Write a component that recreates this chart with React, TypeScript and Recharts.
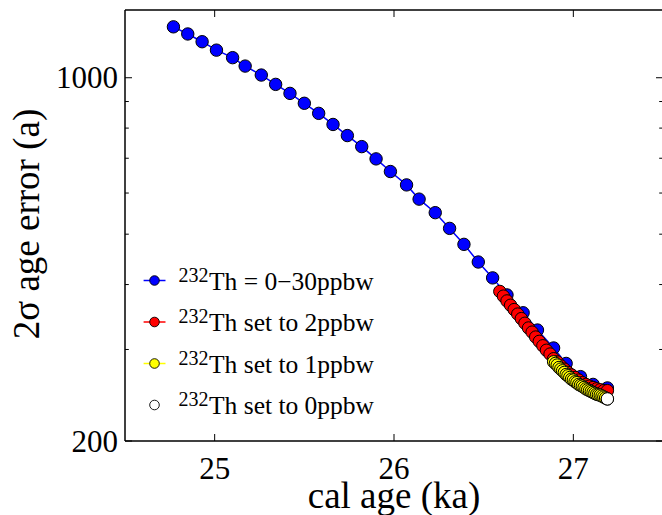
import React from 'react';
import { ComposedChart, Scatter, XAxis, YAxis, Legend } from 'recharts';

// ---- data ----
const blueX = [24.77, 24.85, 24.93, 25.01, 25.10, 25.17, 25.26, 25.34, 25.42, 25.50, 25.58, 25.66, 25.74, 25.82, 25.90, 25.98, 26.07, 26.14, 26.23, 26.31, 26.39, 26.47, 26.55, 26.63, 26.72, 26.80, 26.89, 26.96, 27.04, 27.11, 27.19];
const blueY = [1253, 1214, 1173, 1130, 1093, 1053, 1012, 971, 933, 893, 854, 813, 774, 737, 698, 660, 622, 584, 550, 513, 478, 442, 412, 382, 353, 327, 302, 282, 266, 257, 253];

const redX = [26.59, 26.61, 26.63, 26.65, 26.67, 26.69, 26.71, 26.73, 26.75, 26.77, 26.79, 26.81, 26.83, 26.85, 26.87, 26.89, 26.91, 26.93, 26.95, 26.97, 26.99, 27.01, 27.03, 27.05, 27.07, 27.09, 27.11, 27.13, 27.15, 27.17, 27.19];
const redY = [388, 380, 372, 365, 358, 351, 344, 337, 330, 324, 317, 311, 305, 299, 294, 288, 284, 279, 275, 271, 268, 265, 262, 259, 257, 255, 253.5, 252, 251, 250, 250];

const yellowX = [26.89, 26.90, 26.91, 26.92, 26.93, 26.94, 26.95, 26.96, 26.97, 26.98, 26.99, 27.00, 27.01, 27.02, 27.03, 27.04, 27.05, 27.06, 27.07, 27.08, 27.09, 27.10, 27.11, 27.12, 27.13, 27.14, 27.15, 27.16, 27.17, 27.18, 27.19];
const yellowY = [284, 282, 280, 277, 275, 273, 271, 268.5, 267, 265, 263, 262, 260, 259, 257, 256, 255, 253.5, 252, 251, 250, 249, 248, 247, 246, 245.5, 245, 244, 243, 242, 241];

const whiteX = [27.19];
const whiteY = [241];

const xTicks = [25, 26, 27];
const yTicks = [200, 300, 400, 500, 600, 700, 800, 900, 1000];
const yMajorLabels: Record<number, string> = { 200: '200', 1000: '1000' };
const xDomain = [24.5, 27.5];
const yDomain = [200, 1350];

const legendItems = [
  { sup: '232', text: 'Th = 0\u221230ppbw', fill: '#0000ff', line: '#0000ff' },
  { sup: '232', text: 'Th set to 2ppbw', fill: '#ff0000', line: '#ff0000' },
  { sup: '232', text: 'Th set to 1ppbw', fill: '#ffff00', line: '#ffff00' },
  { sup: '232', text: 'Th set to 0ppbw', fill: '#ffffff', line: null as string | null },
];

const zip = (xs: number[], ys: number[]) => xs.map((x, i) => ({ x, y: ys[i] }));
const blueData = zip(blueX, blueY);
const redData = zip(redX, redY);
const yellowData = zip(yellowX, yellowY);
const whiteData = zip(whiteX, whiteY);

const FONT = "'Liberation Serif', 'DejaVu Serif', serif";
const fontStyle = { fontFamily: FONT };

const makeDot = (fill: string) => (props: any) => (
  <circle cx={props.cx} cy={props.cy} r={6.2} fill={fill} stroke="#000" strokeWidth={1} />
);

const BottomTick = (props: any) => {
  const { x, y, payload } = props;
  return (
    <g>
      <line x1={x} x2={x} y1={y} y2={y - 7} stroke="#000" strokeWidth={1} />
      <text x={x} y={y + 38} textAnchor="middle" style={fontStyle} fontSize={31} fill="#000">
        {payload.value}
      </text>
    </g>
  );
};

const TopTick = (props: any) => {
  const { x, y } = props;
  return <line x1={x} x2={x} y1={y} y2={y + 7} stroke="#000" strokeWidth={1} />;
};

const LeftTick = (props: any) => {
  const { x, y, payload } = props;
  const label = yMajorLabels[payload.value];
  const len = label ? 7 : 3.8;
  return (
    <g>
      <line x1={x} x2={x + len} y1={y} y2={y} stroke="#000" strokeWidth={1} />
      {label && (
        <text x={x - 7} y={y + 10.5} textAnchor="end" style={fontStyle} fontSize={31} fill="#000">
          {label}
        </text>
      )}
    </g>
  );
};

const RightTick = (props: any) => {
  const { x, y, payload } = props;
  const len = yMajorLabels[payload.value] ? 7 : 3.8;
  return <line x1={x} x2={x - len} y1={y} y2={y} stroke="#000" strokeWidth={1} />;
};

const XLabel = () => (
  <text x={394} y={508} textAnchor="middle" style={fontStyle} fontSize={37} fill="#000">
    cal age (ka)
  </text>
);

const YLabel = () => (
  <text x={39} y={224} transform="rotate(-90 39 224)" textAnchor="middle" style={fontStyle} fontSize={37} fill="#000">
    2σ age error (a)
  </text>
);

const LegendContent = () => {
  const rows = [20.5, 62, 103.5, 145];
  return (
    <svg width={270} height={160} style={{ display: 'block', overflow: 'visible' }}>
      {legendItems.map((it, i) => (
        <g key={i}>
          {it.line && <line x1={13.6} x2={35.5} y1={rows[i]} y2={rows[i]} stroke={it.line} strokeWidth={1.5} />}
          <circle cx={24.5} cy={rows[i]} r={4.8} fill={it.fill} stroke="#000" strokeWidth={0.9} />
          <text style={fontStyle} fill="#000">
            <tspan x={48.4} y={rows[i] + 1} fontSize={20}>{it.sup}</tspan>
            <tspan x={79} y={rows[i] + 9.2} fontSize={25.5}>{it.text}</tspan>
          </text>
        </g>
      ))}
    </svg>
  );
};

export default function App() {
  return (
    <div style={{ position: 'absolute', left: 0, top: 0, width: 662, height: 515, overflow: 'hidden', background: '#fff', fontFamily: FONT }}>
      <ComposedChart width={680} height={515} margin={{ top: 9, right: 16, bottom: 73, left: 0 }} style={fontStyle}>
        <XAxis
          xAxisId="bottom"
          dataKey="x"
          type="number"
          orientation="bottom"
          domain={xDomain}
          allowDataOverflow
          ticks={xTicks}
          interval={0}
          height={1}
          tickSize={0}
          tickMargin={0}
          tickLine={false}
          tick={<BottomTick />}
          axisLine={{ stroke: '#000', strokeWidth: 1.5 }}
          label={<XLabel />}
        />
        <XAxis
          xAxisId="top"
          dataKey="x"
          type="number"
          orientation="top"
          domain={xDomain}
          allowDataOverflow
          ticks={xTicks}
          interval={0}
          height={1}
          tickSize={0}
          tickMargin={0}
          tickLine={false}
          tick={<TopTick />}
          axisLine={{ stroke: '#000', strokeWidth: 1.5 }}
        />
        <YAxis
          yAxisId="left"
          dataKey="y"
          type="number"
          scale="log"
          orientation="left"
          domain={yDomain}
          allowDataOverflow
          ticks={yTicks}
          interval={0}
          width={125}
          tickSize={0}
          tickMargin={0}
          tickLine={false}
          tick={<LeftTick />}
          axisLine={{ stroke: '#000', strokeWidth: 1.5 }}
          label={<YLabel />}
        />
        <YAxis
          yAxisId="right"
          dataKey="y"
          type="number"
          scale="log"
          orientation="right"
          domain={yDomain}
          allowDataOverflow
          ticks={yTicks}
          interval={0}
          width={1}
          tickSize={0}
          tickMargin={0}
          tickLine={false}
          tick={<RightTick />}
          axisLine={{ stroke: '#000', strokeWidth: 1.5 }}
        />
        <Scatter
          name="0-30"
          data={blueData}
          xAxisId="bottom"
          yAxisId="left"
          fill="#0000ff"
          line={{ stroke: '#0000ff', strokeWidth: 1.5 }}
          shape={makeDot('#0000ff')}
          isAnimationActive={false}
        />
        <Scatter
          name="2"
          data={redData}
          xAxisId="bottom"
          yAxisId="left"
          fill="#ff0000"
          line={{ stroke: '#ff0000', strokeWidth: 1.5 }}
          shape={makeDot('#ff0000')}
          isAnimationActive={false}
        />
        <Scatter
          name="1"
          data={yellowData}
          xAxisId="bottom"
          yAxisId="left"
          fill="#ffff00"
          line={{ stroke: '#ffff00', strokeWidth: 1.5 }}
          shape={makeDot('#ffff00')}
          isAnimationActive={false}
        />
        <Scatter
          name="0"
          data={whiteData}
          xAxisId="bottom"
          yAxisId="left"
          fill="#ffffff"
          shape={makeDot('#ffffff')}
          isAnimationActive={false}
        />
        <Legend
          layout="horizontal"
          verticalAlign="middle"
          align="center"
          content={<LegendContent />}
          wrapperStyle={{ position: 'absolute', left: 130, top: 260, width: 270, height: 160, margin: 0, padding: 0 }}
        />
      </ComposedChart>
    </div>
  );
}
